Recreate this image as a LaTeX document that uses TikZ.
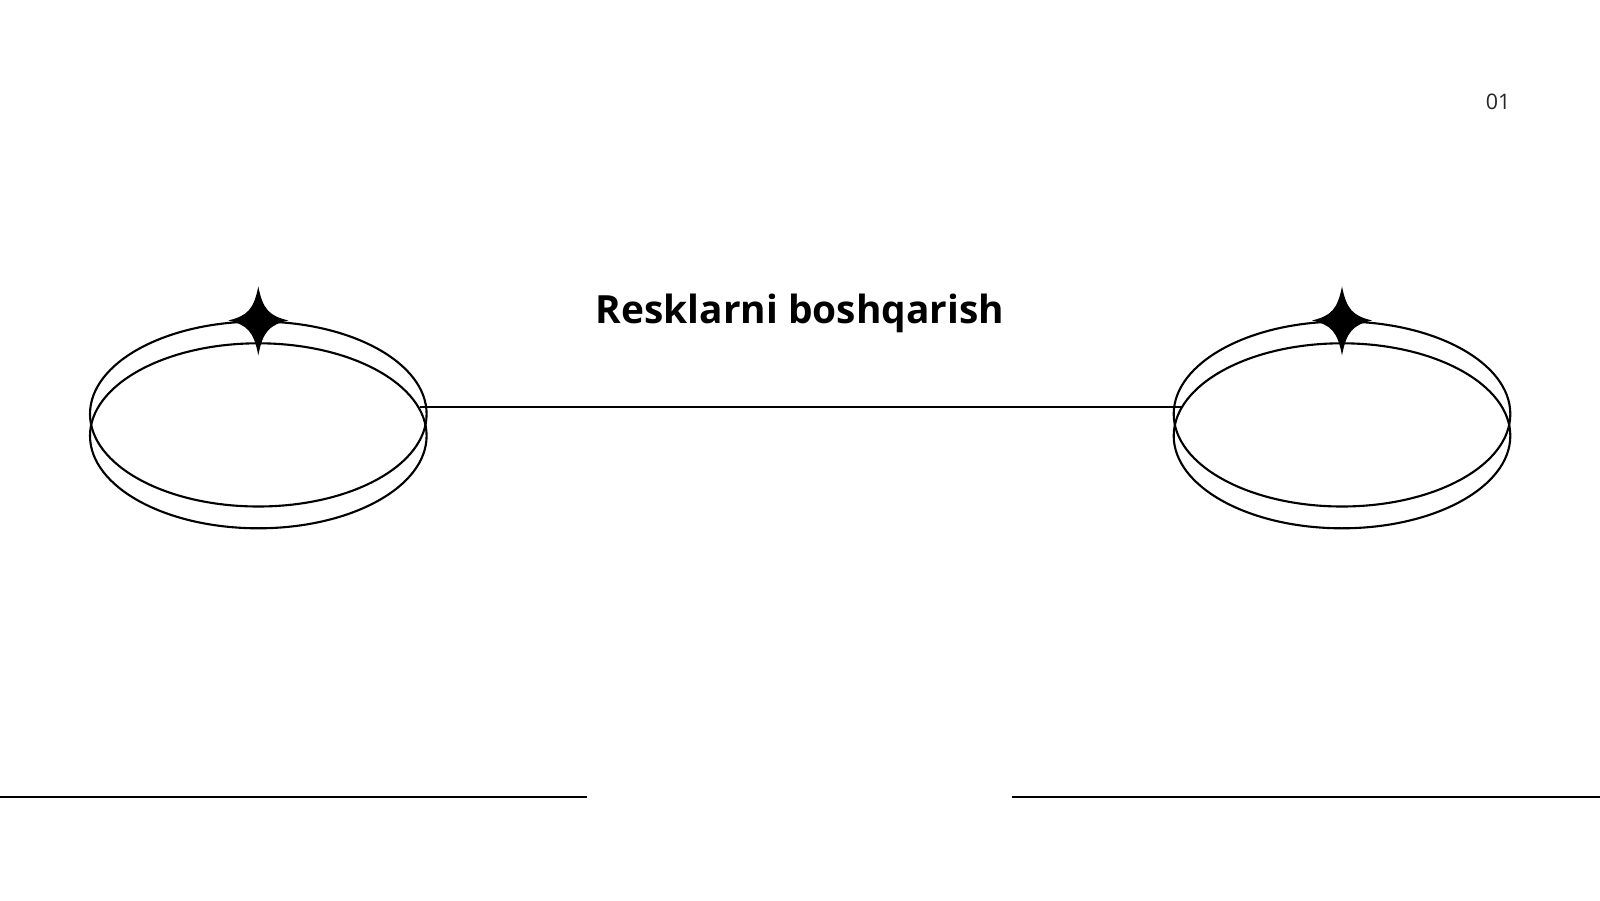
\documentclass[tikz,border=0pt]{standalone}
\usepackage{fontspec}
\setmainfont{Open Sans}
\usetikzlibrary{shapes,arrows,positioning}
\tikzset{ring/.style={ellipse,draw,line width=0.6pt,minimum width=3.366cm,minimum height=1.85cm,inner sep=0pt}}
\tikzset{link/.style={draw,line width=0.6pt}}
\tikzset{rule/.style={draw,line width=0.65pt}}
\tikzset{heading/.style={font=\bfseries\fontsize{11.05}{13}\selectfont,inner sep=0pt,anchor=base}}
\tikzset{pagenum/.style={font=\fontsize{6.1}{7}\selectfont,text=black!85,inner sep=0pt}}
\tikzset{sparkle/.pic={
    \fill (0,0.34) .. controls (0.045,0.11) and (0.11,0.045) .. (0.3,0)
        .. controls (0.11,-0.045) and (0.045,-0.11) .. (0,-0.35)
        .. controls (-0.045,-0.11) and (-0.11,-0.045) .. (-0.3,0)
        .. controls (-0.11,0.045) and (-0.045,0.11) .. cycle;}}

\begin{document}
\begin{tikzpicture}
    \useasboundingbox[fill=white] (0,0) rectangle (16,9);

    % left ring pair
    \node[ring] (la) at (2.583,4.86) {};
    \node[ring] (lb) at (2.583,4.642) {};
    \pic at (la.north) {sparkle};

    % right ring pair
    \node[ring] (ra) at (13.42,4.86) {};
    \node[ring] (rb) at (13.42,4.642) {};
    \pic at (ra.north) {sparkle};

    \path[link] (lb.10.2) -- (lb.10.2 -| rb.169.8);

    \node[heading] (title) at (8.0,5.767) {Resklarni boshqarish};
    \node[pagenum] (num) at (14.98,7.98) {01};

    % bottom rules
    \coordinate (bl1) at (0,1.03);
    \coordinate (bl2) at (5.87,1.03);
    \coordinate (br1) at (10.12,1.03);
    \coordinate (br2) at (16,1.03);
    \path[rule] (bl1) -- (bl2);
    \path[rule] (br1) -- (br2);
\end{tikzpicture}
\end{document}
